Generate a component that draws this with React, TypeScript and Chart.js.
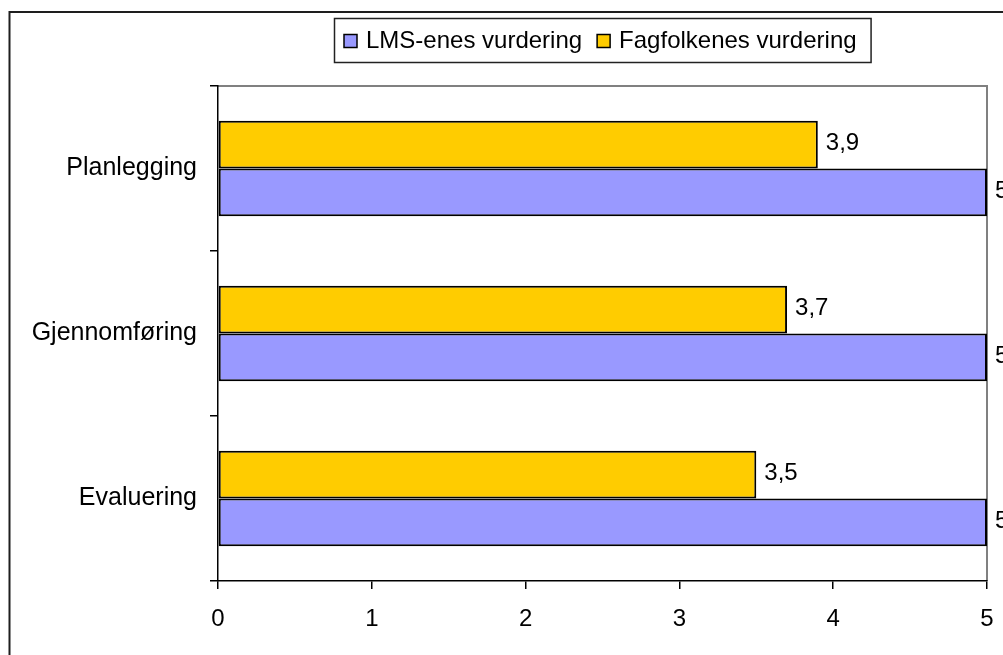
import React, { useEffect, useRef } from "react";
import { Chart, registerables } from "chart.js";

Chart.register(...registerables);

// Ratings per phase
const categories = ["Planlegging", "Gjennomføring", "Evaluering"];
const lmsScores = [5, 5, 5];
const expertScores = [3.9, 3.7, 3.5];
const seriesLabels = ["LMS-enes vurdering", "Fagfolkenes vurdering"];
const seriesColors = ["#9999FF", "#FFCC00"];
const axisMin = 0;
const axisMax = 5;
const axisStep = 1;

const FONT = "'Liberation Sans', Arial, Helvetica, sans-serif";

const formatValue = (v: number) => String(v).replace(".", ",");

// Outer frame and the grey top/right edges of the plot area
const framePlugin = {
  id: "frame",
  beforeDraw(chart: any) {
    const { ctx, chartArea: a } = chart;
    ctx.save();
    ctx.strokeStyle = "#1e1e1e";
    ctx.lineWidth = 2;
    ctx.beginPath();
    ctx.moveTo(9.5, chart.height + 5);
    ctx.lineTo(9.5, 12);
    ctx.lineTo(chart.width + 5, 12);
    ctx.stroke();

    ctx.strokeStyle = "#808080";
    ctx.lineWidth = 2;
    ctx.beginPath();
    ctx.moveTo(a.left, a.top);
    ctx.lineTo(a.right, a.top);
    ctx.lineTo(a.right, a.bottom);
    ctx.stroke();
    ctx.restore();
  },
};

// Boxed legend centred above the plot area (LMS first)
const boxedLegendPlugin = {
  id: "boxedLegend",
  afterDraw(chart: any) {
    const { ctx, chartArea: a } = chart;
    const items = chart.data.datasets
      .map((ds: any) => ({ label: ds.label, color: ds.backgroundColor }))
      .reverse();
    ctx.save();
    ctx.font = `24px ${FONT}`;
    const marker = 13;
    const gapText = 9;
    const gapItem = 15;
    const padL = 10;
    const padR = 14;
    const widths = items.map((it: any) => ctx.measureText(it.label).width);
    let total = padL + padR + gapItem * (items.length - 1);
    widths.forEach((w: number) => (total += marker + gapText + w));
    const cx = (a.left + a.right) / 2;
    const x0 = Math.round(cx - total / 2);
    const top = 18;
    const h = 44;

    ctx.fillStyle = "#ffffff";
    ctx.fillRect(x0, top, total, h);
    ctx.strokeStyle = "#222";
    ctx.lineWidth = 1.5;
    ctx.strokeRect(x0 + 0.5, top + 0.5, total, h);

    let x = x0 + padL;
    const cy = top + h / 2 + 1;
    items.forEach((it: any, i: number) => {
      ctx.fillStyle = it.color;
      ctx.fillRect(x, cy - marker / 2, marker, marker);
      ctx.strokeStyle = "#000";
      ctx.lineWidth = 1.5;
      ctx.strokeRect(x, cy - marker / 2, marker, marker);
      x += marker + gapText;
      ctx.fillStyle = "#000";
      ctx.textBaseline = "middle";
      ctx.textAlign = "left";
      ctx.fillText(it.label, x, cy);
      x += widths[i] + gapItem;
    });
    ctx.restore();
  },
};

// Value labels to the right of each bar
const valueLabelPlugin = {
  id: "valueLabels",
  afterDatasetsDraw(chart: any) {
    const { ctx } = chart;
    ctx.save();
    ctx.font = `24px ${FONT}`;
    ctx.fillStyle = "#000";
    ctx.textAlign = "left";
    ctx.textBaseline = "middle";
    chart.data.datasets.forEach((ds: any, di: number) => {
      const meta = chart.getDatasetMeta(di);
      meta.data.forEach((el: any, i: number) => {
        ctx.fillText(formatValue(ds.data[i]), el.x + 8, el.y - 1);
      });
    });
    ctx.restore();
  },
};

export default function App() {
  const canvasRef = useRef<HTMLCanvasElement | null>(null);

  useEffect(() => {
    if (!canvasRef.current) return;
    const chart = new Chart(canvasRef.current, {
      type: "bar",
      data: {
        labels: categories,
        datasets: [
          {
            label: seriesLabels[1],
            data: expertScores,
            backgroundColor: seriesColors[1],
            borderColor: "#000",
            borderWidth: 2,
            borderSkipped: false,
            categoryPercentage: 0.58,
            barPercentage: 1,
          },
          {
            label: seriesLabels[0],
            data: lmsScores,
            backgroundColor: seriesColors[0],
            borderColor: "#000",
            borderWidth: 2,
            borderSkipped: false,
            categoryPercentage: 0.58,
            barPercentage: 1,
          },
        ],
      },
      options: {
        indexAxis: "y",
        responsive: false,
        animation: false,
        layout: { padding: { top: 86, right: 16, left: 0, bottom: 0 } },
        plugins: {
          legend: { display: false },
          tooltip: { enabled: false },
        },
        scales: {
          x: {
            type: "linear",
            min: axisMin,
            max: axisMax,
            ticks: {
              stepSize: axisStep,
              color: "#000",
              font: { family: FONT, size: 24 },
              padding: 16,
            },
            grid: {
              drawOnChartArea: false,
              drawTicks: true,
              tickLength: 8,
              color: "#000",
              lineWidth: 1.5,
            },
            border: { color: "#000", width: 1.5 },
            afterFit: (scale: any) => {
              scale.height = 74;
              scale.paddingLeft = 0;
              scale.paddingRight = 0;
            },
          },
          y: {
            type: "category",
            ticks: {
              color: "#000",
              font: { family: FONT, size: 25 },
              padding: 13,
            },
            grid: {
              offset: true,
              drawOnChartArea: false,
              drawTicks: true,
              tickLength: 8,
              color: "#000",
              lineWidth: 1.5,
            },
            border: { color: "#000", width: 1.5 },
            afterFit: (scale: any) => {
              scale.width = 218;
            },
          },
        },
      },
      plugins: [framePlugin, valueLabelPlugin, boxedLegendPlugin],
    } as any);
    return () => chart.destroy();
  }, []);

  return (
    <div
      style={{
        position: "absolute",
        left: 0,
        top: 0,
        width: 1003,
        height: 655,
        background: "#fff",
        overflow: "hidden",
      }}
    >
      <canvas ref={canvasRef} width={1003} height={655} />
    </div>
  );
}
